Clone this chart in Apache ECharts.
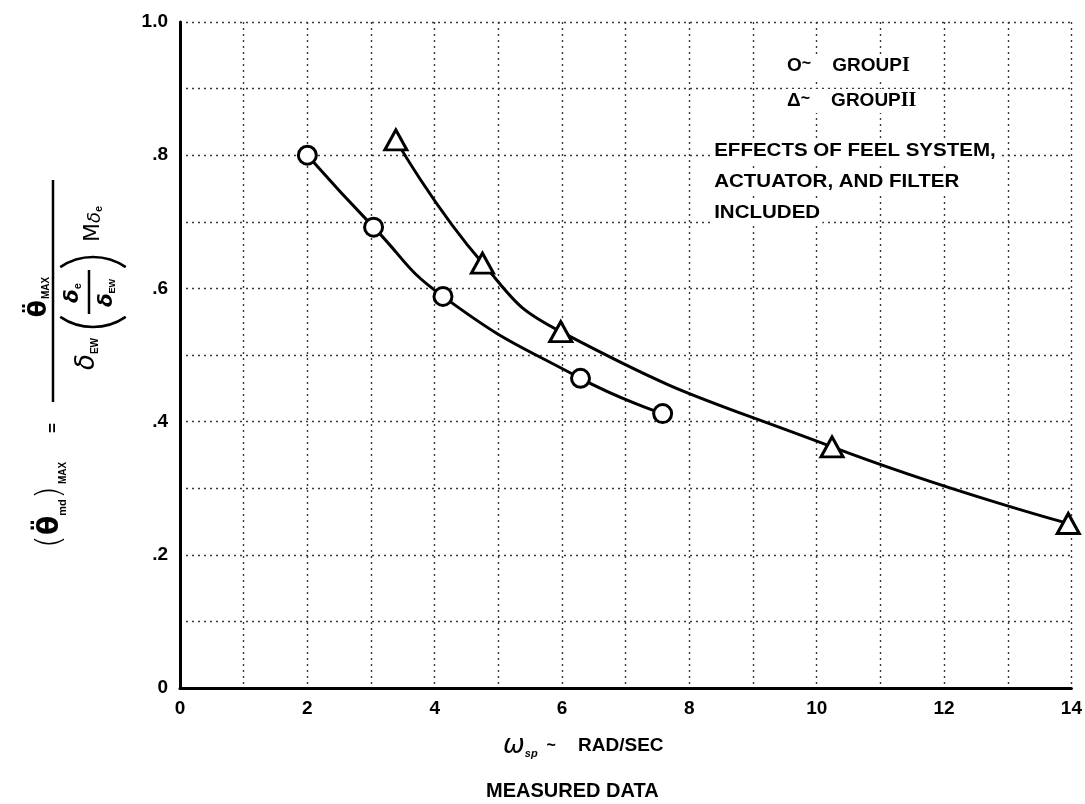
<!DOCTYPE html>
<html>
<head>
<meta charset="utf-8">
<script src="https://cdn.jsdelivr.net/npm/echarts@6/dist/echarts.min.js"></script>
<style>
  html, body { margin: 0; padding: 0; background: #fff; }
  #chart { width: 1085px; height: 804px; }
</style>
</head>
<body>
<div id="chart"></div>
<script>
// ---- Data ----
const groupI_x = [2.0, 3.04, 4.13, 6.29, 7.58];
const groupI_y = [0.800, 0.692, 0.588, 0.465, 0.412];
const groupII_x = [3.39, 4.75, 5.98, 10.24, 13.95];
const groupII_y = [0.823, 0.638, 0.535, 0.362, 0.247];

const xTickValues = [0, 2, 4, 6, 8, 10, 12, 14];
const yTickValues = [0, 0.2, 0.4, 0.6, 0.8, 1.0];
const yTickLabels = ['0', '.2', '.4', '.6', '.8', '1.0'];

const legendLines = ['EFFECTS OF FEEL SYSTEM,', 'ACTUATOR, AND FILTER', 'INCLUDED'];

const FONTW = "'Liberation Sans', 'Arial', sans-serif";
const GREEK = "'DejaVu Sans', sans-serif";
const SERIF = "'Liberation Serif', serif";

function pairs(xs, ys) { return xs.map((x, i) => [x, ys[i]]); }

const chart = echarts.init(document.getElementById('chart'), null, { renderer: 'canvas' });

const gridStyle = { color: '#3a3a3a', width: 1.4, type: [2, 4] };

// rotated y-axis title built in local (reading-direction) coordinates
const yTitle = {
  type: 'group',
  x: 53, y: 428,
  rotation: Math.PI / 2,
  children: [
    { type: 'text', x: -77, y: -2, style: {
        text: '{p|(}{t|\u03B8\u0308}{s|md}{p|)}{m|MAX}',
        align: 'center', verticalAlign: 'middle', fill: '#000',
        rich: {
          p: { fontSize: 34, fontFamily: GREEK, fontWeight: 300, fill: '#000' },
          t: { fontSize: 28, fontFamily: GREEK, fontWeight: 'bold', fill: '#000' },
          s: { fontSize: 11, fontFamily: FONTW, fontWeight: 'bold', fill: '#000', verticalAlign: 'bottom', padding: [14, 0, 0, 0] },
          m: { fontSize: 10, fontFamily: FONTW, fontWeight: 'bold', fill: '#000', verticalAlign: 'bottom', padding: [18, 0, 0, 2] }
        } } },
    { type: 'text', x: 0, y: 0, style: { text: '=', fontSize: 17, fontWeight: 'bold', fontFamily: FONTW, align: 'center', verticalAlign: 'middle', fill: '#000' } },
    { type: 'line', shape: { x1: 26, y1: 0, x2: 248, y2: 0 }, style: { stroke: '#000', lineWidth: 2.5 } },
    { type: 'text', x: 131, y: -14, style: {
        text: '{t|\u03B8\u0308}{s|MAX}', align: 'center', verticalAlign: 'middle',
        rich: {
          t: { fontSize: 25, fontFamily: GREEK, fontWeight: 'bold', fill: '#000' },
          s: { fontSize: 10, fontFamily: FONTW, fontWeight: 'bold', fill: '#000', verticalAlign: 'bottom', padding: [10, 0, 0, 1] }
        } } },
    { type: 'text', x: 74, y: 34, style: {
        text: '{d|\u03B4}{s|EW}', align: 'center', verticalAlign: 'middle',
        rich: {
          d: { fontSize: 26, fontFamily: GREEK, fontStyle: 'italic', fill: '#000' },
          s: { fontSize: 10, fontFamily: FONTW, fontWeight: 'bold', fill: '#000', verticalAlign: 'bottom', padding: [12, 0, 0, 0] }
        } } },
    { type: 'arc', shape: { cx: 101 + 58, cy: 40, r: 58, startAngle: Math.PI - 0.6, endAngle: Math.PI + 0.6 }, style: { stroke: '#000', lineWidth: 2.5, fill: null } },
    { type: 'arc', shape: { cx: 171 - 58, cy: 40, r: 58, startAngle: -0.6, endAngle: 0.6 }, style: { stroke: '#000', lineWidth: 2.5, fill: null } },
    { type: 'text', x: 135, y: 20, style: {
        text: '{d|\u03B4}{s|e}', align: 'center', verticalAlign: 'middle',
        rich: {
          d: { fontSize: 20, fontFamily: GREEK, fontStyle: 'italic', fontWeight: 'bold', fill: '#000' },
          s: { fontSize: 11, fontFamily: FONTW, fontWeight: 'bold', fill: '#000', verticalAlign: 'bottom', padding: [8, 0, 0, 0] }
        } } },
    { type: 'line', shape: { x1: 114, y1: 36, x2: 158, y2: 36 }, style: { stroke: '#000', lineWidth: 2.5 } },
    { type: 'text', x: 135, y: 54, style: {
        text: '{d|\u03B4}{s|EW}', align: 'center', verticalAlign: 'middle',
        rich: {
          d: { fontSize: 20, fontFamily: GREEK, fontStyle: 'italic', fontWeight: 'bold', fill: '#000' },
          s: { fontSize: 9, fontFamily: FONTW, fontWeight: 'bold', fill: '#000', verticalAlign: 'bottom', padding: [8, 0, 0, 0] }
        } } },
    { type: 'text', x: 204, y: 40, style: {
        text: '{m|M}{d|\u03B4}{s|e}', align: 'center', verticalAlign: 'middle',
        rich: {
          m: { fontSize: 22, fontFamily: GREEK, fill: '#000' },
          d: { fontSize: 18, fontFamily: GREEK, fontStyle: 'italic', fill: '#000', verticalAlign: 'bottom', padding: [4, 0, 0, 0] },
          s: { fontSize: 11, fontFamily: FONTW, fontWeight: 'bold', fill: '#000', verticalAlign: 'bottom', padding: [10, 0, 0, 0] }
        } } }
  ]
};

function legendRow(symbol, numeral, top) {
  return { type: 'text', left: 784, top: top, z: 10, style: {
      text: '{o|' + symbol + '}{t|~}{g|    GROUP}{r|' + numeral + '}',
      backgroundColor: '#fff', padding: [2, 3, 2, 3],
      rich: {
        o: { fontSize: 19, fontFamily: FONTW, fontWeight: 'bold', fill: '#000' },
        t: { fontSize: 16, fontFamily: FONTW, fontWeight: 'bold', fill: '#000', verticalAlign: 'top' },
        g: { fontSize: 19, fontFamily: FONTW, fontWeight: 'bold', fill: '#000' },
        r: { fontSize: 20, fontFamily: SERIF, fontWeight: 'bold', fill: '#000' }
      } } };
}

const legendTexts = [
  legendRow('O', 'I', 54),
  legendRow('\u0394', 'II', 89)
].concat(legendLines.map((t, i) => ({
  type: 'text', left: 712, top: 139 + i * 31, scaleX: 1.08, z: 10,
  style: { text: t, fontSize: 19, fontWeight: 'bold', fontFamily: FONTW, fill: '#000', backgroundColor: '#fff', padding: [2, 2, 2, 2] }
})));

const xTitle = [
  { type: 'text', left: 503, top: 733, style: {
      text: '{w|\u03C9}{s|sp}{t|  ~     }{r|RAD/SEC}',
      rich: {
        w: { fontSize: 26, fontFamily: GREEK, fontStyle: 'italic', fill: '#000' },
        s: { fontSize: 11, fontFamily: FONTW, fontWeight: 'bold', fontStyle: 'italic', fill: '#000', verticalAlign: 'bottom', padding: [16, 0, 0, 0] },
        t: { fontSize: 16, fontFamily: FONTW, fontWeight: 'bold', fill: '#000' },
        r: { fontSize: 19, fontFamily: FONTW, fontWeight: 'bold', fill: '#000' }
      } } },
  { type: 'text', left: 486, top: 781, style: { text: 'MEASURED DATA', fontSize: 20, fontWeight: 'bold', fontFamily: FONTW, fill: '#000' } }
];

const option = {
  backgroundColor: '#ffffff',
  animation: false,
  grid: { left: 180, right: 12, top: 22, bottom: 116, containLabel: false },
  xAxis: {
    type: 'value', min: 0, max: 14, interval: 1,
    axisLine: { show: true, onZero: false, lineStyle: { color: '#000', width: 3 } },
    axisTick: { show: false },
    splitLine: { show: true, lineStyle: gridStyle },
    axisLabel: {
      margin: 11, color: '#000', fontSize: 19, fontWeight: 'bold', fontFamily: FONTW,
      formatter: v => xTickValues.indexOf(Math.round(v)) >= 0 && Math.abs(v - Math.round(v)) < 1e-6 ? String(Math.round(v)) : ''
    }
  },
  yAxis: {
    type: 'value', min: 0, max: 1, interval: 0.1,
    axisLine: { show: true, onZero: false, lineStyle: { color: '#000', width: 3 } },
    axisTick: { show: false },
    splitLine: { show: true, lineStyle: gridStyle },
    axisLabel: {
      margin: 12, color: '#000', fontSize: 19, fontWeight: 'bold', fontFamily: FONTW,
      formatter: v => {
        const i = yTickValues.findIndex(t => Math.abs(t - v) < 1e-6);
        return i >= 0 ? yTickLabels[i] : '';
      }
    }
  },
  series: [
    {
      name: 'GROUP I', type: 'line', data: pairs(groupI_x, groupI_y),
      smooth: 0.5,
      symbol: 'circle', symbolSize: 18, showAllSymbol: true,
      lineStyle: { color: '#000', width: 3 },
      itemStyle: { color: '#fff', borderColor: '#000', borderWidth: 3 },
      z: 3
    },
    {
      name: 'GROUP II', type: 'line', data: pairs(groupII_x, groupII_y),
      smooth: 0.5,
      symbol: 'triangle', symbolSize: [22, 20], showAllSymbol: true,
      lineStyle: { color: '#000', width: 3 },
      itemStyle: { color: '#fff', borderColor: '#000', borderWidth: 3 },
      z: 3
    }
  ],
  graphic: [yTitle].concat(legendTexts, xTitle)
};

chart.setOption(option);
</script>
</body>
</html>
